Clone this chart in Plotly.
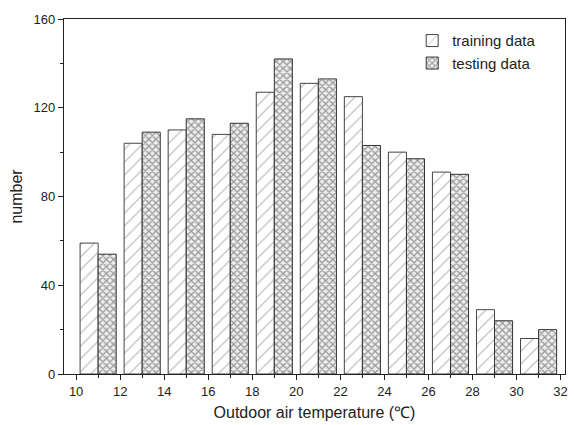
import plotly.graph_objects as go

temps = [11, 13, 15, 17, 19, 21, 23, 25, 27, 29, 31]
training = [59, 104, 110, 108, 127, 131, 125, 100, 91, 29, 16]
testing = [54, 109, 115, 113, 142, 133, 103, 97, 90, 24, 20]

fig = go.Figure()
fig.add_trace(go.Bar(
    x=temps, y=training, name="training data",
    marker=dict(color="white", line=dict(color="#444", width=1),
                pattern=dict(shape="/", size=9, solidity=0.12, fgcolor="#666", bgcolor="white")),
))
fig.add_trace(go.Bar(
    x=temps, y=testing, name="testing data",
    marker=dict(color="white", line=dict(color="#333", width=1),
                pattern=dict(shape="x", size=5, solidity=0.45, fgcolor="#444", bgcolor="#eee")),
))

axis_common = dict(
    showline=True, linecolor="#222", linewidth=1.2, mirror=True,
    ticks="outside", ticklen=5, tickcolor="#222", showgrid=False, zeroline=False,
    automargin=False,
    tickfont=dict(family="Liberation Sans, Arial", size=13, color="#222"),
)

fig.update_layout(
    width=574, height=425,
    margin=dict(l=64, r=9, t=19, b=51),
    paper_bgcolor="white", plot_bgcolor="white",
    barmode="group", bargap=0.18, bargroupgap=0,
    font=dict(family="Liberation Sans, Arial", color="#222"),
    xaxis=dict(range=[9.45, 32.2], tick0=10, dtick=2,
               minor=dict(dtick=1, ticks="outside", ticklen=3, tickcolor="#222"),
               title=dict(text="Outdoor air temperature (℃)", font=dict(size=16), standoff=9),
               **axis_common),
    yaxis=dict(range=[0, 160], tick0=0, dtick=40,
               minor=dict(dtick=20, ticks="outside", ticklen=3, tickcolor="#222"),
               title=dict(text="number", font=dict(size=16), standoff=6),
               **axis_common),
    legend=dict(x=0.695, y=0.985, xanchor="left", yanchor="top",
                bgcolor="rgba(0,0,0,0)", font=dict(size=15, color="#222"),
                tracegroupgap=0, itemwidth=30),
    showlegend=True,
)

fig.write_html("out.html")
